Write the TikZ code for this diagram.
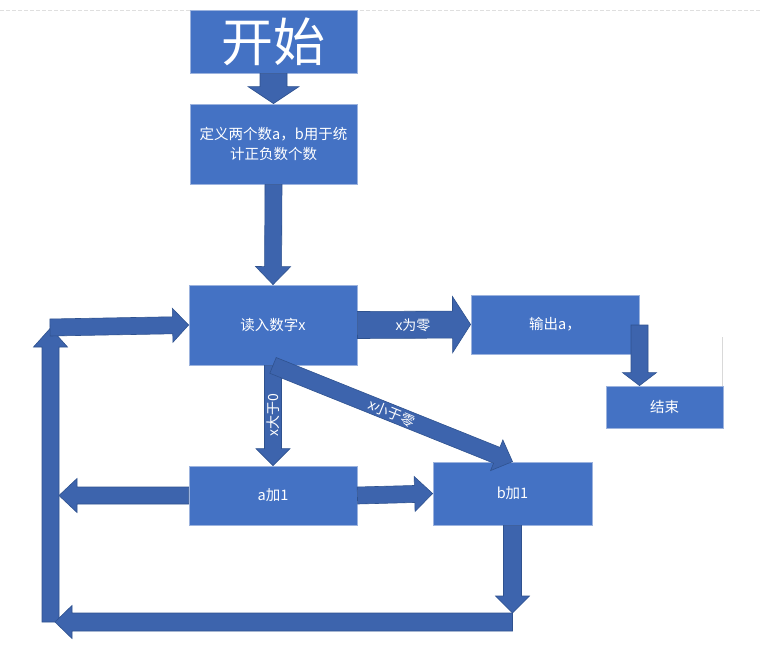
\documentclass[tikz,border=0pt]{standalone}
\usepackage{fontspec}
\setmainfont{Noto Sans CJK SC}
\usetikzlibrary{calc}
\definecolor{boxblue}{HTML}{4472C4}
\definecolor{boxedge}{HTML}{9CB3DE}
\definecolor{arrowblue}{HTML}{3D64AD}
\definecolor{arrowedge}{HTML}{2F528F}
% #1 options, #2 from, #3 to, #4 half shaft, #5 half head, #6 head length
\newcommand\blockarrow[6][]{%
  \coordinate (ba-c) at ($(#3)!#6!(#2)$);
  \draw[barrow,#1] ($(#2)!#4!90:(#3)$) -- ($(ba-c)!#4!90:(#3)$) -- ($(ba-c)!#5!90:(#3)$)
    -- (#3) -- ($(ba-c)!#5!-90:(#3)$) -- ($(ba-c)!#4!-90:(#3)$) -- ($(#2)!#4!-90:(#3)$) -- cycle;}
\begin{document}
\begin{tikzpicture}[x=1pt,y=-1pt,
  box/.style={rectangle, fill=boxblue, draw=boxedge, line width=0.8pt, text=white,
    font=\fontsize{14.5}{19.5}\selectfont, align=center, inner sep=0pt},
  barrow/.style={fill=arrowblue, draw=arrowedge, line width=0.6pt, line join=miter},
  lbl/.style={text=white, font=\fontsize{14}{16}\selectfont, inner sep=0pt}]
\useasboundingbox (0,0) rectangle (762,656);
\fill[white] (0,0) rectangle (762,656);
\draw[gray!25, line width=0.8pt, dash pattern=on 4pt off 2pt] (0,10) -- (762,10);
\draw[gray!30, line width=0.8pt] (722.5,337) -- (722.5,386);

% boxes
\node[box, minimum width=167pt, minimum height=63pt, font=\fontsize{52}{56}\selectfont] (start) at (273.5,41.5) {开始};
\node[box, minimum width=167pt, minimum height=80pt] (def) at (273.5,144) {定义两个数a，b用于统\\计正负数个数};
\node[box, minimum width=168pt, minimum height=80pt] (read) at (273,325) {读入数字x};
\node[box, minimum width=168pt, minimum height=59pt] (out) at (555,324.5) {输出a，};
\node[box, minimum width=117pt, minimum height=42pt] (end) at (664.5,407) {结束};
\node[box, minimum width=168pt, minimum height=59pt] (ainc) at (273,495.5) {a加1};
\node[box, minimum width=159pt, minimum height=63pt] (binc) at (512.5,493.5) {b加1};

% free ends of the loop
\coordinate (outdrop) at (639.5,325);
\coordinate (lmid) at (59,495.5);
\coordinate (bdrop) at (512.5,613);
\coordinate (loopbr) at (512.5,622);
\coordinate (loopbl) at (55,622);
\coordinate (leftbot) at (50.5,622);
\coordinate (lefttop) at (50.5,328);
\coordinate (topstart) at (50,327.5);

% block arrows
\blockarrow{start.south}{def.north}{13.5pt}{25.5pt}{17pt}
\blockarrow{def.south}{read.north}{8.5pt}{17.5pt}{18pt}
\blockarrow{read.east}{out.west}{13.5pt}{28pt}{18pt}
\blockarrow{outdrop}{outdrop |- end.north}{8.5pt}{17pt}{13pt}
\blockarrow{read.south}{ainc.north}{8.5pt}{17pt}{17pt}
\blockarrow{read.south}{binc.north}{8.5pt}{16.5pt}{17pt}
\blockarrow{ainc.east}{binc.west}{8.5pt}{17.5pt}{18pt}
\blockarrow{ainc.west}{lmid}{8.5pt}{17pt}{18pt}
\blockarrow{binc.south}{bdrop}{9pt}{17pt}{17pt}
\blockarrow{leftbot}{lefttop}{8.5pt}{17pt}{19pt}
\blockarrow{loopbr}{loopbl}{9pt}{16.5pt}{17pt}
\blockarrow{topstart}{read.west}{8.5pt}{17pt}{16pt}

% labels
\node[lbl] (lzero) at (413,325) {x为零};
\node[lbl, rotate=90] (lpos) at (273.5,415) {x大于0};
\node[lbl, rotate=-22.3] (lneg) at (392,413.5) {x小于零};
\end{tikzpicture}
\end{document}
